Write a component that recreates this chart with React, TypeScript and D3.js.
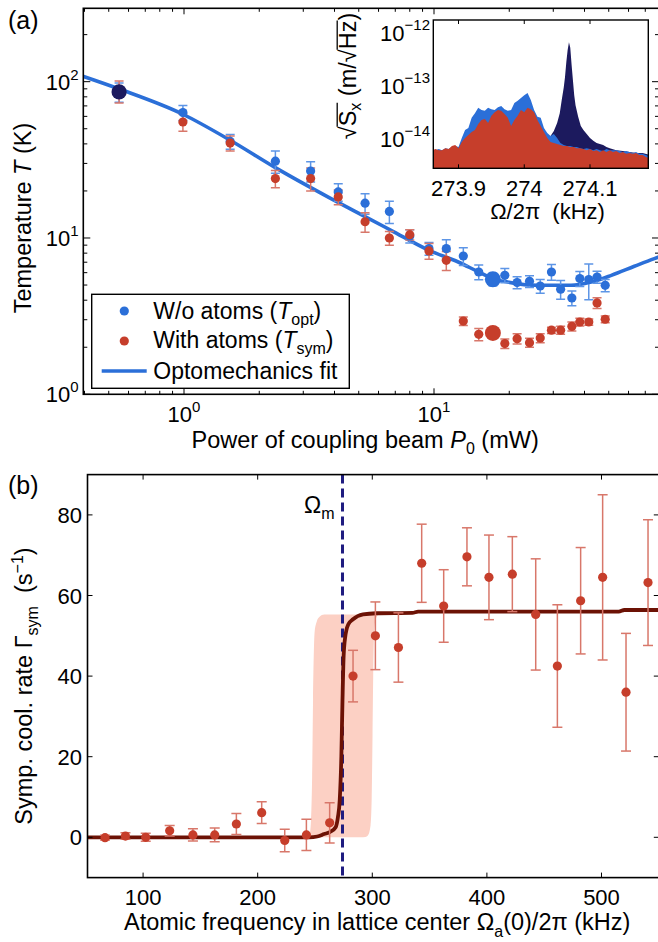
import React from "react";
import * as d3 from "d3";

// ---------------- Panel (a): temperature vs power ----------------
const powerMW = [0.55, 0.99, 1.53, 2.32, 3.21, 4.14, 5.3, 6.63, 8.0, 9.55, 11.2, 13.1, 15.1, 17.2, 19.2, 21.5, 24.1, 26.6, 29.5, 32.1, 35.6, 38.3, 41.6, 44.9, 48.4];
const tempOpt = [86, 63.4, 41.5, 31, 26.8, 19.7, 16.7, 14.8, 10.3, 8.55, 8.55, 7.67, 6.06, 5.44, 5.77, 5.19, 5.28, 4.93, 6.06, 4.7, 4.13, 5.5, 5.42, 5.63, 4.98];
const tempOptErr = [12, 7, 4.5, 5, 4, 2.5, 2.5, 2.4, 1.0, 0.8, 1.2, 1.0, 0.65, 0.5, 0.6, 0.45, 0.45, 0.5, 0.7, 0.65, 0.45, 0.6, 1.4, 0.5, 0.45];
const tempSym = [87, 55.2, 40.5, 24.0, 24.0, 18.3, 12.7, 10.0, 10.5, 8.26, 7.2, 2.94, 2.42, 2.47, 2.11, 2.27, 2.14, 2.29, 2.57, 2.57, 2.72, 2.9, 2.9, 3.84, 3.02];
const tempSymErr = [14, 7, 4.5, 3, 4, 2, 1.8, 1.0, 0.8, 0.95, 1.0, 0.18, 0.22, 0.2, 0.15, 0.17, 0.14, 0.15, 0.12, 0.15, 0.18, 0.17, 0.13, 0.3, 0.15];
const highlightPower = [0.55, 17.2, 17.2];
const highlightTemp = [86, 5.44, 2.47];
const fitPower = [0.394, 0.555, 0.99, 1.53, 2.31, 3.84, 5.3, 6.73, 9.55, 12.5, 15.1, 17.2, 19.7, 26.0, 35.3, 42.5, 51.2, 63.3, 76.1, 80];
const fitTemp = [108.3, 89.4, 61.9, 42.2, 28.3, 18.0, 13.7, 11.2, 8.34, 7.02, 6.06, 5.5, 5.23, 4.98, 4.98, 5.23, 5.77, 6.59, 7.38, 7.6];
const xMajorA = [1, 10];
const yMajorA = [1, 10, 100];
const xTickLabelsA = ["0", "1"];
const yTickLabelsA = ["0", "1", "2"];

// ---------------- Inset: displacement spectra ----------------
const specFreq = [273.860, 273.865, 273.870, 273.875, 273.880, 273.885, 273.890, 273.895, 273.900, 273.905, 273.910, 273.915, 273.920, 273.925, 273.930, 273.935, 273.940, 273.945, 273.950, 273.955, 273.960, 273.965, 273.970, 273.975, 273.980, 273.985, 273.990, 273.995, 274.000, 274.005, 274.010, 274.015, 274.020, 274.025, 274.030, 274.035, 274.040, 274.045, 274.050, 274.055, 274.060, 274.065, 274.070, 274.075, 274.080, 274.085, 274.090, 274.095, 274.100, 274.105, 274.110, 274.115, 274.120, 274.125, 274.130, 274.135, 274.140, 274.145, 274.150, 274.155, 274.160, 274.165, 274.170, 274.175, 274.180, 274.185, 274.190];
const specNoAtoms = [5.4e-15, 5.4e-15, 5.7e-15, 5.4e-15, 5.9e-15, 5.7e-15, 6.2e-15, 6.5e-15, 6.2e-15, 9.2e-15,
  1.3e-14, 1.42e-14, 2.2e-14, 2.7e-14, 3.4e-14, 3.1e-14, 3.0e-14, 3.4e-14, 3.2e-14, 3.1e-14,
  3.5e-14, 3.7e-14, 3.2e-14, 3.0e-14, 3.1e-14, 4.2e-14, 4.6e-14, 5.2e-14, 5.9e-14, 6.5e-14,
  4.8e-14, 3.1e-14, 2.3e-14, 2.2e-14, 1.42e-14, 1.14e-14, 1.0e-14, 1.09e-14, 9.2e-15, 7.4e-15,
  6.8e-15, 6.5e-15, 6.5e-15, 6.2e-15, 6.2e-15, 5.9e-15, 5.7e-15, 5.9e-15, 5.7e-15, 5.4e-15,
  5.7e-15, 5.4e-15, 5.2e-15, 5.7e-15, 5.4e-15, 5.4e-15, 5.4e-15, 5.2e-15, 5.0e-15, 5.2e-15,
  5.0e-15, 4.8e-15, 5.0e-15, 4.6e-15, 4.6e-15, 4.4e-15, 4.2e-15];
const specWithAtoms = [5.4e-15, 5.7e-15, 5.4e-15, 5.4e-15, 5.9e-15, 5.7e-15, 6.5e-15, 6.8e-15, 5.9e-15, 7.7e-15,
  9.2e-15, 1.04e-14, 1.19e-14, 1.3e-14, 1.68e-14, 2.0e-14, 2.1e-14, 1.76e-14, 2.4e-14, 2.8e-14,
  3.1e-14, 3.0e-14, 2.6e-14, 2.2e-14, 1.55e-14, 2.0e-14, 2.4e-14, 3.1e-14, 2.8e-14, 3.4e-14,
  3.2e-14, 2.8e-14, 2.0e-14, 1.55e-14, 1.19e-14, 9.2e-15, 7.7e-15, 7.4e-15, 7.1e-15, 6.8e-15,
  6.5e-15, 6.5e-15, 6.2e-15, 6.2e-15, 5.9e-15, 5.9e-15, 5.7e-15, 5.4e-15, 5.7e-15, 5.2e-15,
  5.4e-15, 5.0e-15, 5.4e-15, 5.0e-15, 5.4e-15, 5.0e-15, 5.2e-15, 4.8e-15, 5.0e-15, 4.6e-15,
  4.8e-15, 4.6e-15, 4.8e-15, 4.4e-15, 4.4e-15, 4.0e-15, 3.8e-15];
const peakFreq = [273.860, 273.880, 273.900, 273.920, 273.940, 273.960, 273.980, 274.000, 274.020, 274.030, 274.035, 274.040, 274.045, 274.050, 274.054, 274.057, 274.060, 274.062, 274.064, 274.066, 274.068, 274.070, 274.072, 274.074, 274.076, 274.078, 274.082, 274.086, 274.090, 274.095, 274.100, 274.105, 274.110, 274.115, 274.120, 274.125, 274.130, 274.140, 274.150, 274.160, 274.170, 274.180, 274.190];
const specLowPower = [5.0e-15, 5.0e-15, 5.2e-15, 5.0e-15, 5.2e-15, 5.0e-15, 5.2e-15, 5.0e-15, 5.2e-15, 5.4e-15, 8.4e-15, 1.0e-14, 1.24e-14, 1.76e-14, 2.7e-14, 4.8e-14, 8.1e-14, 1.3e-13, 2.5e-13, 4.2e-13, 5.9e-13, 4.6e-13, 2.2e-13, 1.14e-13, 5.9e-14, 3.8e-14, 2.3e-14, 1.55e-14, 1.3e-14, 1.09e-14, 9.2e-15, 8.1e-15, 7.4e-15, 7.1e-15, 6.8e-15, 6.2e-15, 5.9e-15, 5.4e-15, 5.2e-15, 5.0e-15, 4.8e-15, 4.8e-15, 4.4e-15];
const insetXTicks = [273.9, 274.0, 274.1];
const insetXTickLabels = ["273.9", "274", "274.1"];
const insetYTicks = [1e-12, 1e-13, 1e-14];
const insetYTickLabels = ["\u221212", "\u221213", "\u221214"];

// ---------------- Panel (b): sympathetic cooling rate ----------------
const atomFreq = [66.8, 84.6, 102.3, 123.2, 143.5, 162.5, 181.4, 203.5, 223.6, 242.5, 262.8, 283.2, 302.7, 322.8, 343.1, 362.3, 382.6, 401.8, 422.2, 442.6, 461.5, 481.8, 501.0, 521.4, 540.6];
const coolRate = [-0.1, 0.3, 0.0, 1.6, 0.6, 0.6, 3.3, 6.1, -0.8, 0.6, 3.6, 40.0, 50.0, 47.1, 68.0, 57.4, 69.6, 64.5, 65.3, 55.3, 42.5, 58.7, 64.5, 36.0, 63.2];
const coolRateErr = [0.6, 0.8, 1.0, 1.3, 1.5, 1.7, 2.6, 2.7, 2.8, 3.9, 5.0, 6.4, 8.4, 8.6, 9.7, 9.0, 7.2, 10.5, 9.3, 13.8, 15.2, 13.2, 20.5, 14.6, 15.6];
const fitFreq = [51.5, 200, 245, 252, 258, 263, 268, 270, 271.6, 273, 274, 275, 276.5, 277.4, 279, 283.2, 291.9, 303.6, 335, 340, 515, 520, 550];
const fitRate = [0, 0, 0, 0.2, 0.8, 1.3, 2.5, 5, 9.3, 20, 34, 45, 50, 51.4, 52.8, 54.1, 55.3, 55.6, 55.7, 56.0, 56.0, 56.4, 56.4];
const bandFreq = [228, 236, 242, 245.4, 246.5, 247.5, 248.3, 249.7, 251.5, 254, 258, 290, 294, 296.3, 298.5, 299.5, 300.2, 300.8, 301.5, 302.5, 304, 306];
const bandUpper = [0, 0.2, 0.6, 1, 4, 15, 34, 51, 53.5, 54.7, 55.3, 55.3, 55.3, 55.3, 55.3, 55.3, 55.3, 55.3, 55.3, 55.3, 55.3, 55.3];
const bandLower = [0, 0, 0, 0, 0, 0, 0, 0, 0, 0, 0, 0, 0.1, 0.5, 3, 10, 25, 40, 50, 53.5, 54.8, 55.3];
const omegaM = 274;
const xTicksB = [100, 200, 300, 400, 500];
const yTicksB = [0, 20, 40, 60, 80];

// ---------------- styling ----------------
const FONT = "'Liberation Sans', Arial, Helvetica, sans-serif";
const BLUE = "#2b6fd8";
const BLUE_ERR = "#5d95e6";
const RED = "#c63e2b";
const RED_ERR = "#d8776a";
const NAVY = "#1c1a5e";
const DARKRED = "#6c1205";
const BAND = "#fcd0c4";
const DASH = "#1f1c80";

let measureCtx: CanvasRenderingContext2D | null = null;
function textWidth(s: string, size: number) {
  if (!measureCtx && typeof document !== "undefined") {
    measureCtx = document.createElement("canvas").getContext("2d");
  }
  if (!measureCtx) return s.length * size * 0.55;
  measureCtx.font = `${size}px 'Liberation Sans'`;
  return measureCtx.measureText(s).width;
}

function SqrtLabel({ bx, cy }: { bx: number; cy: number }) {
  const fs = 23.5;
  const sub = 16;
  const parts = [
    { t: "\u221A", s: fs, dy: 0, over: false },
    { t: "S", s: fs, dy: 0, over: true },
    { t: "x", s: sub, dy: 5, over: true },
    { t: " (m/", s: fs, dy: 0, over: false },
    { t: "\u221A", s: fs, dy: 0, over: false },
    { t: "Hz", s: fs, dy: 0, over: true },
    { t: ")", s: fs, dy: 0, over: false },
  ];
  let x = 0;
  const placed = parts.map((p) => {
    const w = textWidth(p.t, p.s);
    const r = { ...p, x, w };
    x += w;
    return r;
  });
  const total = x;
  const off = -total / 2;
  const overlines: { x1: number; x2: number }[] = [];
  placed.forEach((p, i) => {
    if (p.over) {
      const prev = placed[i - 1];
      if (prev && prev.over && overlines.length) {
        overlines[overlines.length - 1].x2 = p.x + p.w;
      } else {
        overlines.push({ x1: p.x - 0.5, x2: p.x + p.w });
      }
    }
  });
  return (
    <g transform={`translate(${bx},${cy}) rotate(-90)`}>
      {placed.map((p, i) => (
        <text key={i} x={off + p.x} y={p.dy} fontSize={p.s} fontFamily={FONT} style={{ whiteSpace: "pre" }}>
          {p.t}
        </text>
      ))}
      {overlines.map((o, i) => (
        <line key={i} x1={off + o.x1} x2={off + o.x2} y1={-fs * 0.8} y2={-fs * 0.8} stroke="#000" strokeWidth={1.3} />
      ))}
    </g>
  );
}

export default function App() {
  const W = 658;
  const H = 942;

  // ---- Panel (a) geometry ----
  const A = { l: 83.3, t: 8.3, r: 659, b: 394.3 };
  const xA = d3.scaleLog().domain([Math.pow(10, -0.4028), Math.pow(10, 1.9)]).range([A.l, A.r]);
  const yA = d3.scaleLog().domain([1, Math.pow(10, 2.4695)]).range([A.b, A.t]);
  const xMinorA: number[] = [];
  [0.1, 1, 10].forEach((d) => {
    for (let m = 2; m <= 9; m++) {
      const v = d * m;
      if (xA(v) > A.l + 0.5 && xA(v) < A.r - 0.5) xMinorA.push(v);
    }
  });
  const yMinorA: number[] = [];
  [1, 10, 100].forEach((d) => {
    for (let m = 2; m <= 9; m++) {
      const v = d * m;
      if (yA(v) > A.t + 0.5 && yA(v) < A.b - 0.5) yMinorA.push(v);
    }
  });
  const fitPathA = d3
    .line<number>()
    .x((d) => xA(d))
    .y((_, i) => yA(fitTemp[i]))
    .curve(d3.curveMonotoneX)(fitPower) || "";

  // ---- Inset geometry ----
  const I = { l: 433.3, t: 20, r: 648.3, b: 168.3 };
  const xI = d3.scaleLinear().domain([273.9, 274.1]).range([458.5, 590]);
  const yI = d3.scaleLog().domain([1e-12, 1e-14]).range([30, 136]);
  const areaI = (fr: number[], vals: number[]) =>
    d3
      .area<number>()
      .x((d) => xI(d))
      .y0(I.b + 2)
      .y1((_, i) => yI(vals[i]))(fr) || "";

  // ---- Panel (b) geometry ----
  const B = { l: 87.5, t: 474.6, r: 658.8, b: 877.6 };
  const xB = d3.scaleLinear().domain([51.5, 550]).range([B.l, B.r]);
  const yB = d3.scaleLinear().domain([-10, 90]).range([B.b, B.t]);
  const fitPathB = d3
    .line<number>()
    .x((d) => xB(d))
    .y((_, i) => yB(fitRate[i]))
    .curve(d3.curveMonotoneX)(fitFreq) || "";
  const bandPath = d3
    .area<number>()
    .x((d) => xB(d))
    .y0((_, i) => yB(bandLower[i]))
    .y1((_, i) => yB(bandUpper[i]))
    .curve(d3.curveMonotoneX)(bandFreq) || "";

  const tickFs = 22;
  const supFs = 15;
  const labelFs = 23.5;

  const errBar = (x: number, y1: number, y2: number, color: string, cap: number, key: string) => (
    <g key={key} stroke={color} strokeWidth={1.5}>
      <line x1={x} x2={x} y1={y1} y2={y2} />
      <line x1={x - cap} x2={x + cap} y1={y1} y2={y1} />
      <line x1={x - cap} x2={x + cap} y1={y2} y2={y2} />
    </g>
  );

  return (
    <svg
      width={W}
      height={H}
      viewBox={`0 0 ${W} ${H}`}
      style={{ position: "absolute", left: 0, top: 0, background: "#fff" }}
      fontFamily={FONT}
    >
      <defs>
        <clipPath id="clipA">
          <rect x={A.l} y={A.t} width={A.r - A.l} height={A.b - A.t} />
        </clipPath>
        <clipPath id="clipI">
          <rect x={I.l} y={I.t} width={I.r - I.l} height={I.b - I.t} />
        </clipPath>
        <clipPath id="clipB">
          <rect x={B.l} y={B.t} width={B.r - B.l} height={B.b - B.t} />
        </clipPath>
      </defs>
      <rect x={0} y={0} width={W} height={H} fill="#fff" />

      {/* ================= Panel (a) ================= */}
      <g clipPath="url(#clipA)">
        <path d={fitPathA} fill="none" stroke={BLUE} strokeWidth={3.6} />
        {powerMW.map((p, i) =>
          errBar(xA(p), yA(tempOpt[i] + tempOptErr[i]), yA(tempOpt[i] - tempOptErr[i]), BLUE_ERR, 4.5, `eo${i}`)
        )}
        {powerMW.map((p, i) =>
          errBar(xA(p), yA(tempSym[i] + tempSymErr[i]), yA(tempSym[i] - tempSymErr[i]), RED_ERR, 4.5, `es${i}`)
        )}
        {powerMW.map((p, i) => (
          <circle key={`po${i}`} cx={xA(p)} cy={yA(tempOpt[i])} r={4.6} fill={BLUE} />
        ))}
        {powerMW.map((p, i) => (
          <circle key={`ps${i}`} cx={xA(p)} cy={yA(tempSym[i])} r={4.6} fill={RED} />
        ))}
        {highlightPower.map((p, i) => (
          <circle key={`hl${i}`} cx={xA(p)} cy={yA(highlightTemp[i])} r={i === 0 ? 7.6 : 8} fill={[NAVY, BLUE, RED][i]} />
        ))}
      </g>
      {/* ticks (a) */}
      <g stroke="#000" strokeWidth={1}>
        {xMajorA.map((v) => (
          <g key={`xma${v}`}>
            <line x1={xA(v)} x2={xA(v)} y1={A.b} y2={A.b - 6} />
            <line x1={xA(v)} x2={xA(v)} y1={A.t} y2={A.t + 6} />
          </g>
        ))}
        {xMinorA.map((v) => (
          <g key={`xmi${v}`}>
            <line x1={xA(v)} x2={xA(v)} y1={A.b} y2={A.b - 3.5} />
            <line x1={xA(v)} x2={xA(v)} y1={A.t} y2={A.t + 3.5} />
          </g>
        ))}
        {yMajorA.map((v) => (
          <g key={`yma${v}`}>
            <line x1={A.l} x2={A.l + 7} y1={yA(v)} y2={yA(v)} />
            <line x1={A.r} x2={A.r - 7} y1={yA(v)} y2={yA(v)} />
          </g>
        ))}
        {yMinorA.map((v) => (
          <g key={`ymi${v}`}>
            <line x1={A.l} x2={A.l + 4} y1={yA(v)} y2={yA(v)} />
            <line x1={A.r} x2={A.r - 4} y1={yA(v)} y2={yA(v)} />
          </g>
        ))}
      </g>
      <rect x={A.l} y={A.t} width={A.r - A.l} height={A.b - A.t} fill="none" stroke="#000" strokeWidth={1.6} />
      {xMajorA.map((v, i) => (
        <text key={`xla${v}`} x={xA(v)} y={422} textAnchor="middle" fontSize={tickFs}>
          10<tspan dy={-10} fontSize={supFs}>{xTickLabelsA[i]}</tspan>
        </text>
      ))}
      {yMajorA.map((v, i) => (
        <text key={`yla${v}`} x={78.5} y={yA(v) + 8} textAnchor="end" fontSize={tickFs}>
          10<tspan dy={-10} fontSize={supFs}>{yTickLabelsA[i]}</tspan>
        </text>
      ))}
      <text x={(A.l + A.r) / 2 - 6} y={448} textAnchor="middle" fontSize={labelFs} style={{ whiteSpace: "pre" }}>
        Power of coupling beam <tspan fontStyle="italic">P</tspan>
        <tspan dy={6} fontSize={16}>0</tspan>
        <tspan dy={-6}> (mW)</tspan>
      </text>
      <text transform={`translate(31,218) rotate(-90)`} textAnchor="middle" fontSize={labelFs} style={{ whiteSpace: "pre" }}>
        Temperature <tspan fontStyle="italic">T</tspan> (K)
      </text>
      <text x={8} y={29} fontSize={25}>(a)</text>

      {/* legend */}
      <rect x={91.7} y={294.3} width={257.6} height={94} fill="#fff" stroke="#000" strokeWidth={1.4} />
      <circle cx={124.3} cy={311} r={4.6} fill={BLUE} />
      <text x={153.3} y={318.5} fontSize={23} style={{ whiteSpace: "pre" }}>
        W/o atoms (<tspan fontStyle="italic">T</tspan>
        <tspan dy={6} fontSize={16}>opt</tspan>
        <tspan dy={-6}>)</tspan>
      </text>
      <circle cx={124.3} cy={341} r={4.6} fill={RED} />
      <text x={153.3} y={348} fontSize={23} style={{ whiteSpace: "pre" }}>
        With atoms (<tspan fontStyle="italic">T</tspan>
        <tspan dy={6} fontSize={16}>sym</tspan>
        <tspan dy={-6}>)</tspan>
      </text>
      <line x1={101.7} x2={146.7} y1={371} y2={371} stroke={BLUE} strokeWidth={3.6} />
      <text x={153.3} y={378.5} fontSize={23}>Optomechanics fit</text>

      {/* inset */}
      <rect x={I.l} y={I.t} width={I.r - I.l} height={I.b - I.t} fill="#fff" />
      <g clipPath="url(#clipI)">
        <path d={areaI(peakFreq, specLowPower)} fill={NAVY} />
        <path d={areaI(specFreq, specNoAtoms)} fill={BLUE} />
        <path d={areaI(specFreq, specWithAtoms)} fill={RED} />
      </g>
      <g stroke="#000" strokeWidth={1}>
        {insetXTicks.map((v) => (
          <g key={`ixt${v}`}>
            <line x1={xI(v)} x2={xI(v)} y1={I.b} y2={I.b - 4} />
            <line x1={xI(v)} x2={xI(v)} y1={I.t} y2={I.t + 4} />
          </g>
        ))}
      </g>
      <rect x={I.l} y={I.t} width={I.r - I.l} height={I.b - I.t} fill="none" stroke="#000" strokeWidth={1.4} />
      {insetXTicks.map((v, i) => (
        <text key={`ixl${v}`} x={xI(v)} y={196} textAnchor="middle" fontSize={tickFs}>
          {insetXTickLabels[i]}
        </text>
      ))}
      {insetYTicks.map((v, i) => (
        <text key={`iyl${v}`} x={430} y={yI(v) + 11} textAnchor="end" fontSize={tickFs}>
          10<tspan dy={-11} fontSize={supFs}>{insetYTickLabels[i]}</tspan>
        </text>
      ))}
      <text x={547.5} y={219} textAnchor="middle" fontSize={tickFs} style={{ whiteSpace: "pre" }}>
        {"\u03A9/2\u03C0  (kHz)"}
      </text>
      <SqrtLabel bx={356} cy={76} />

      {/* ================= Panel (b) ================= */}
      <g clipPath="url(#clipB)">
        <path d={bandPath} fill={BAND} />
        <line x1={xB(omegaM)} x2={xB(omegaM)} y1={B.t} y2={B.b} stroke={DASH} strokeWidth={3} strokeDasharray="9,5" />
        <path d={fitPathB} fill="none" stroke={DARKRED} strokeWidth={3.8} />
        {atomFreq.map((f, i) =>
          errBar(xB(f), yB(coolRate[i] + coolRateErr[i]), yB(coolRate[i] - coolRateErr[i]), RED_ERR, 5, `eb${i}`)
        )}
        {atomFreq.map((f, i) => (
          <circle key={`pb${i}`} cx={xB(f)} cy={yB(coolRate[i])} r={4.6} fill={RED} />
        ))}
      </g>
      <g stroke="#000" strokeWidth={1}>
        {xTicksB.map((v) => (
          <g key={`xtb${v}`}>
            <line x1={xB(v)} x2={xB(v)} y1={B.b} y2={B.b - 5} />
            <line x1={xB(v)} x2={xB(v)} y1={B.t} y2={B.t + 5} />
          </g>
        ))}
        {yTicksB.map((v) => (
          <g key={`ytb${v}`}>
            <line x1={B.l} x2={B.l + 5} y1={yB(v)} y2={yB(v)} />
            <line x1={B.r} x2={B.r - 5} y1={yB(v)} y2={yB(v)} />
          </g>
        ))}
      </g>
      <rect x={B.l} y={B.t} width={B.r - B.l} height={B.b - B.t} fill="none" stroke="#000" strokeWidth={1.6} />
      {xTicksB.map((v) => (
        <text key={`xlb${v}`} x={xB(v)} y={905} textAnchor="middle" fontSize={tickFs}>
          {v}
        </text>
      ))}
      {yTicksB.map((v) => (
        <text key={`ylb${v}`} x={82} y={yB(v) + 8} textAnchor="end" fontSize={tickFs}>
          {v}
        </text>
      ))}
      <text x={304} y={513} fontSize={23}>
        {"\u03A9"}
        <tspan dy={6} fontSize={16}>m</tspan>
      </text>
      <text x={(B.l + B.r) / 2 + 4} y={930} textAnchor="middle" fontSize={labelFs} style={{ whiteSpace: "pre" }}>
        {"Atomic frequency in lattice center \u03A9"}
        <tspan dy={7} fontSize={16}>a</tspan>
        <tspan dy={-7}>{"(0)/2\u03C0 (kHz)"}</tspan>
      </text>
      <text transform={`translate(32,686) rotate(-90)`} textAnchor="middle" fontSize={labelFs} style={{ whiteSpace: "pre" }}>
        {"Symp. cool. rate \u0393"}
        <tspan dy={6} fontSize={16}>sym</tspan>
        <tspan dy={-6}>{"  (s"}</tspan>
        <tspan dy={-9} fontSize={16}>{"\u22121"}</tspan>
        <tspan dy={9}>)</tspan>
      </text>
      <text x={8} y={494} fontSize={25}>(b)</text>
    </svg>
  );
}
